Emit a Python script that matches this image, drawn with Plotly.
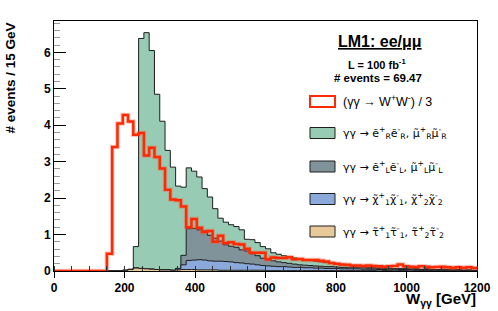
import plotly.graph_objects as go
import numpy as np

# ---------------- data (events per 15 GeV bin, 0..1200 GeV) ----------------
bin_edges = [15 * i for i in range(81)]

ww_over_3 = [0] * 10 + [
    0.47, 3.40, 4.05, 4.28, 4.10, 3.74, 3.79, 3.17, 3.38, 3.13,
    2.81, 2.23, 1.96, 1.94, 1.77, 1.20, 1.43, 1.19, 1.07, 1.10,
    0.80, 0.97, 0.77, 0.79, 0.74, 0.73, 0.61, 0.50, 0.50, 0.50,
    0.32, 0.37, 0.36, 0.36, 0.38, 0.32, 0.33, 0.30, 0.30, 0.30,
    0.28, 0.26, 0.22, 0.20, 0.18, 0.17, 0.15, 0.15, 0.14, 0.15,
    0.14, 0.13, 0.12, 0.13, 0.14, 0.18, 0.13, 0.12, 0.11, 0.13,
    0.12, 0.10, 0.11, 0.12, 0.10, 0.09, 0.10, 0.09, 0.10, 0.08]

stau = [0] * 13 + [
    0.02, 0.04, 0.08, 0.07, 0.06, 0.05, 0.04, 0.03, 0.03, 0.02,
    0.03, 0.04, 0.04, 0.04, 0.03, 0.03, 0.03, 0.03, 0.02, 0.02,
    0.02, 0.02, 0.02, 0.02, 0.02, 0.02, 0.02, 0.01, 0.01, 0.01,
    0.01, 0.01, 0.01, 0.01, 0.01, 0.01, 0.01, 0.01, 0.01, 0.01,
    0.01, 0.01, 0.01, 0.01, 0.01, 0.01, 0.01, 0.01, 0.00, 0.01,
    0.01, 0.00, 0.01, 0.01, 0.00, 0.01, 0.00, 0.01, 0.00, 0.00,
    0.01, 0.00, 0.00, 0.01, 0.00, 0.00, 0.00]

chargino = [0] * 23 + [
    0.04, 0.13, 0.25, 0.26, 0.28, 0.27, 0.25, 0.24, 0.25, 0.24,
    0.23, 0.21, 0.20, 0.18, 0.17, 0.15, 0.13, 0.13, 0.12, 0.11,
    0.11, 0.10, 0.09, 0.09, 0.08, 0.08, 0.07, 0.07, 0.06, 0.06,
    0.06, 0.05, 0.05, 0.05, 0.05, 0.04, 0.04, 0.04, 0.04, 0.03,
    0.04, 0.03, 0.03, 0.03, 0.03, 0.03, 0.02, 0.03, 0.02, 0.02,
    0.02, 0.02, 0.02, 0.02, 0.01, 0.02, 0.01]

slepton_L = [0] * 24 + [
    0.26, 0.87, 0.87, 0.82, 0.80, 0.70, 0.63, 0.55, 0.46, 0.43,
    0.42, 0.36, 0.35, 0.28, 0.25, 0.20, 0.17, 0.15, 0.13, 0.11,
    0.10, 0.09, 0.07, 0.07, 0.06, 0.06, 0.05, 0.05, 0.05, 0.04,
    0.04, 0.04, 0.04, 0.03, 0.04, 0.03, 0.03, 0.03, 0.03, 0.02,
    0.03, 0.02, 0.03, 0.02, 0.02, 0.02, 0.02, 0.02, 0.01, 0.02,
    0.02, 0.01, 0.01, 0.01, 0.01, 0.01]

slepton_R = [0] * 14 + [
    0.01, 0.59, 6.31, 6.48, 6.00, 4.81, 4.08, 3.28, 2.83, 2.26,
    1.87, 1.67, 1.57, 1.45, 1.16, 1.05, 0.81, 0.63, 0.62, 0.59,
    0.57, 0.55, 0.32, 0.39, 0.36, 0.32, 0.30, 0.22, 0.21, 0.19,
    0.19, 0.17, 0.17, 0.15, 0.14, 0.13, 0.12, 0.11, 0.10, 0.09,
    0.07, 0.06, 0.04, 0.02, 0.02, 0.02, 0.01, 0.02, 0.01, 0.01,
    0.01, 0.01, 0.01, 0.01, 0.01, 0.01, 0.00, 0.01, 0.01, 0.00,
    0.01, 0.00, 0.00, 0.01, 0.00, 0.00]

x_ticks = [0, 200, 400, 600, 800, 1000, 1200]
y_ticks = [0, 1, 2, 3, 4, 5, 6]

# ---------------- styling ----------------
FONT = "Liberation Sans"
LEG_FONT = "DejaVu Sans"
C_GREEN = "#97CBB3"
C_GRAY = "#80929A"
C_BLUE = "#8BAADB"
C_TAN = "#E8C99A"
C_RED = "#FF2A00"
C_EDGE = "#1E1E1E"

N = len(bin_edges) - 1


def pad(v):
    return np.array((list(v) + [0.0] * N)[:N], dtype=float)


l1 = pad(stau)
l2 = l1 + pad(chargino)
l3 = l2 + pad(slepton_L)
l4 = l3 + pad(slepton_R)
ww = pad(ww_over_3)


def step_y(v):
    return list(v) + [v[-1]]


fig = go.Figure()
for vals, col in [(l4, C_GREEN), (l3, C_GRAY), (l2, C_BLUE), (l1, C_TAN)]:
    fig.add_trace(go.Scatter(x=bin_edges, y=step_y(vals), mode="lines",
                             line=dict(shape="hv", color=C_EDGE, width=1),
                             fill="tozeroy", fillcolor=col,
                             hoverinfo="skip", showlegend=False))
fig.add_trace(go.Scatter(x=bin_edges, y=step_y(ww), mode="lines",
                         line=dict(shape="hv", color="rgba(255,90,70,0.35)", width=4.5),
                         hoverinfo="skip", showlegend=False))
fig.add_trace(go.Scatter(x=bin_edges, y=step_y(ww), mode="lines",
                         line=dict(shape="hv", color=C_RED, width=2.5),
                         hoverinfo="skip", showlegend=False))

# layout geometry (pixels)
W, H = 498, 311
L, R, T, B = 54, 21, 21, 40
PW, PH = W - L - R, H - T - B


def px(x):
    return (x - L) / PW


def py(y):
    return (H - B - y) / PH


annotations = []
shapes = []

# axis titles
annotations.append(dict(text="<b># events / 15 GeV</b>", textangle=-90,
                        x=px(10), y=py(21), xref="paper", yref="paper",
                        xanchor="center", yanchor="top", showarrow=False,
                        font=dict(family=FONT, size=13.5, color="black")))
annotations.append(dict(text="<b>W<sub>γγ</sub> [GeV]</b>",
                        x=px(478), y=py(299), xref="paper", yref="paper",
                        xanchor="right", yanchor="middle", showarrow=False,
                        font=dict(family=FONT, size=15, color="black")))

# legend header
annotations.append(dict(text="<b><u>LM1: ee/μμ</u></b>", x=px(380), y=py(42),
                        xref="paper", yref="paper", xanchor="center", yanchor="middle",
                        showarrow=False, font=dict(family=FONT, size=16, color="black")))
annotations.append(dict(text="<b>L = 100 fb<sup>-1</sup></b>", x=px(377), y=py(64),
                        xref="paper", yref="paper", xanchor="center", yanchor="middle",
                        showarrow=False, font=dict(family=FONT, size=11, color="black")))
annotations.append(dict(text="<b># events = 69.47</b>", x=px(378), y=py(78),
                        xref="paper", yref="paper", xanchor="center", yanchor="middle",
                        showarrow=False, font=dict(family=FONT, size=11.5, color="black")))

legend_entries = [
    ("(γγ → W<sup>+</sup>W<sup>-</sup>) / 3", 101.5, "white", C_RED, 2),
    ("γγ → e\u0303<sup>+</sup><sub>R</sub>e\u0303<sup>-</sup><sub>R</sub>, "
     "μ\u0303<sup>+</sup><sub>R</sub>μ\u0303<sup>-</sup><sub>R</sub>", 133, C_GREEN, C_EDGE, 1),
    ("γγ → e\u0303<sup>+</sup><sub>L</sub>e\u0303<sup>-</sup><sub>L</sub>, "
     "μ\u0303<sup>+</sup><sub>L</sub>μ\u0303<sup>-</sup><sub>L</sub>", 166.5, C_GRAY, C_EDGE, 1),
    ("γγ → χ\u0303<sup>+</sup><sub>1</sub>χ\u0303<sup>-</sup><sub>1</sub>, "
     "χ\u0303<sup>+</sup><sub>2</sub>χ\u0303<sup>-</sup><sub>2</sub>", 199, C_BLUE, C_EDGE, 1),
    ("γγ → τ\u0303<sup>+</sup><sub>1</sub>τ\u0303<sup>-</sup><sub>1</sub>, "
     "τ\u0303<sup>+</sup><sub>2</sub>τ\u0303<sup>-</sup><sub>2</sub>", 231.5, C_TAN, C_EDGE, 1),
]
for i, (text, yc, fillc, linec, lw) in enumerate(legend_entries):
    shapes.append(dict(type="rect", xref="paper", yref="paper",
                       x0=px(310), x1=px(335), y0=py(yc - 5.5), y1=py(yc + 5.5),
                       fillcolor=fillc, line=dict(color=linec, width=lw)))
    fam = FONT if i == 0 else LEG_FONT
    size = 12.5 if i == 0 else 11
    annotations.append(dict(text=text, x=px(341), y=py(yc), xref="paper", yref="paper",
                            xanchor="left", yanchor="middle", showarrow=False,
                            font=dict(family=fam, size=size, color="black")))

fig.update_layout(
    width=W, height=H,
    margin=dict(l=L, r=R, t=T, b=B, pad=0, autoexpand=False),
    paper_bgcolor="white", plot_bgcolor="white",
    showlegend=False,
    annotations=annotations, shapes=shapes,
    xaxis=dict(range=[0, 1200], tickmode="array", tickvals=x_ticks,
               ticktext=[str(v) for v in x_ticks], automargin=False,
               ticks="outside", ticklen=6, tickwidth=1, tickcolor="black",
               minor=dict(dtick=50, tick0=0, ticks="inside", ticklen=5, tickcolor="#333"),
               showline=True, mirror=True, linecolor="black", linewidth=1,
               showgrid=False, zeroline=False,
               tickfont=dict(family=FONT, size=12, color="black", weight="bold")),
    yaxis=dict(range=[0, 6.86], tickmode="array", tickvals=y_ticks,
               ticktext=[str(v) for v in y_ticks], automargin=False,
               ticks="inside", ticklen=12, tickwidth=1, tickcolor="black",
               minor=dict(dtick=0.2, tick0=0, ticks="inside", ticklen=6, tickcolor="#999"),
               showline=True, mirror=True, linecolor="black", linewidth=1,
               showgrid=False, zeroline=False,
               tickfont=dict(family=FONT, size=12, color="black", weight="bold")),
)

fig.write_html("out.html", config={"displayModeBar": False},
               post_script="document.body.style.margin='0px';document.body.style.overflow='hidden';")
